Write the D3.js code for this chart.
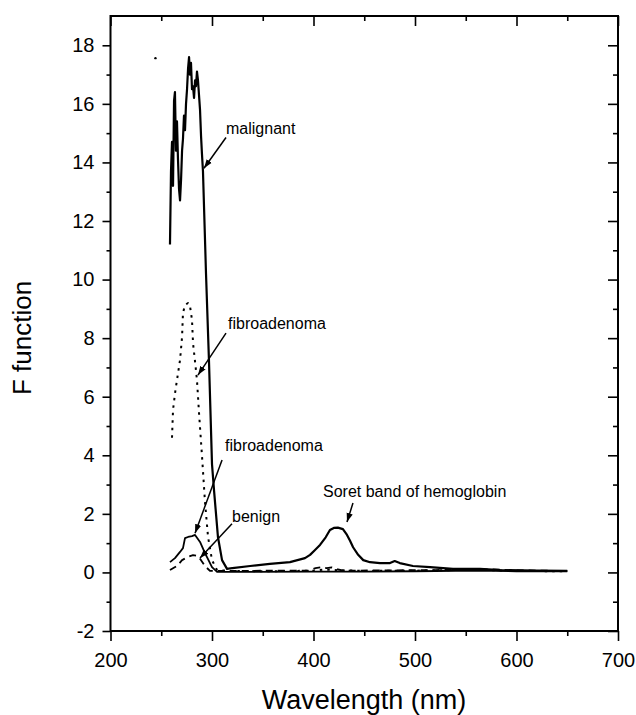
<!DOCTYPE html>
<html>
<head>
<meta charset="utf-8">
<script src="https://cdn.jsdelivr.net/npm/d3@7"></script>
<style>
body { margin: 0; background: #fff; }
text { font-family: "Liberation Sans", Arial, sans-serif; fill: #000; }
</style>
</head>
<body>
<svg width="636" height="715"></svg>
<script>
// tick values
var xTicks = [200, 300, 400, 500, 600, 700]
var xMinor = [250, 350, 450, 550, 650]
var yTicks = [-2, 0, 2, 4, 6, 8, 10, 12, 14, 16, 18]
var yMinor = [-1, 1, 3, 5, 7, 9, 11, 13, 15, 17]

// [wavelength nm, F]
var malignant = [
  [258.6, 11.2], [259.6, 13.7], [260.6, 14.7], [261.6, 13.2], [262.6, 16.1], [263.5, 16.4],
  [264.5, 14.4], [265.5, 15.4], [266.5, 14.1], [267.5, 13.1], [268.5, 12.7], [269.5, 13.4],
  [270.5, 14.4], [271.4, 14.8], [272.4, 15.6], [273.4, 15.1], [274.4, 16.0], [275.4, 16.5],
  [276.4, 17.2], [277.4, 17.6], [278.3, 17.0], [279.3, 17.4], [280.3, 16.5], [281.3, 16.6],
  [282.3, 16.2], [283.3, 16.8], [284.2, 16.6], [285.2, 17.1], [286.2, 16.8], [287.2, 16.3],
  [288.2, 15.8], [289.2, 14.9], [290.1, 14.3], [291.1, 13.7], [294.1, 10.2], [297, 7.25],
  [300, 3.7], [302, 2.8], [305.9, 1.2], [309.9, 0.42], [314.8, 0.12], [320, 0.15],
  [337.6, 0.22], [357, 0.29], [376.8, 0.35], [391.6, 0.49], [396.6, 0.6], [401, 0.75],
  [406.4, 0.94], [412, 1.2], [416.2, 1.45], [420, 1.52], [424, 1.53], [429, 1.48],
  [433, 1.28], [436, 1.08], [439, 0.86], [444, 0.6], [449, 0.42], [455.7, 0.35],
  [465.5, 0.32], [475.4, 0.32], [480, 0.39], [485, 0.32], [498, 0.22], [514.8, 0.18],
  [537.4, 0.12], [564, 0.12], [584, 0.08], [620, 0.06], [650, 0.05]
]
var fibroDotted = [
  [260.6, 4.6], [261.6, 5.55], [263.5, 6.1], [265.5, 6.57], [268.5, 7.25], [270.5, 8.04],
  [271.4, 8.86], [273.4, 9.13], [276.4, 9.2], [278.3, 9.1], [280.3, 8.62], [281.3, 7.83],
  [283.3, 7.2], [285.2, 6.57], [287.2, 5.45], [290.1, 4.0], [293.1, 2.4], [296.1, 1.21],
  [300, 0.42], [305, 0.08], [320, 0.05], [360, 0.04], [400, 0.06], [410, 0.1], [420, 0.08],
  [450, 0.05], [500, 0.06], [560, 0.09], [600, 0.05], [650, 0.04]
]
var fibroSolid = [
  [258.6, 0.35], [263.5, 0.49], [268.5, 0.7], [271.4, 0.83], [273.4, 1.17], [276.4, 1.21],
  [280.3, 1.24], [283.3, 1.28], [288.2, 1.04], [293.1, 0.66], [300, 0.18], [305, 0.02],
  [330, 0.02], [400, 0.03], [450, 0.03], [500, 0.04], [560, 0.06], [600, 0.04], [650, 0.04]
]
var benign = [
  [258.6, 0.08], [265.5, 0.22], [270.5, 0.42], [276.4, 0.53], [281.3, 0.59], [286.2, 0.56],
  [289.2, 0.42], [293.1, 0.22], [298, 0.05], [320, 0.05], [360, 0.06], [395, 0.06],
  [402, 0.15], [408, 0.18], [413, 0.15], [418, 0.17], [424, 0.1], [430, 0.06], [470, 0.07],
  [520, 0.08], [560, 0.12], [600, 0.07], [650, 0.05]
]
var stray = [[244.3, 17.56]]

// label text, label anchor, arrow start, arrow tip (data units)
var notes = [
  { text: 'malignant', at: [313.8, 14.97], from: [313.8, 14.85], to: [292.1, 13.8] },
  { text: 'fibroadenoma', at: [315.8, 8.31], from: [313.8, 8.17], to: [286.2, 6.74] },
  { text: 'fibroadenoma', at: [312.8, 4.14], from: [309.9, 3.84], to: [283.3, 1.34] },
  { text: 'benign', at: [319.7, 1.72], from: [319.7, 1.66], to: [288.2, 0.49] },
  { text: 'Soret band of hemoglobin', at: [409.4, 2.57], from: [438.9, 2.37], to: [433, 1.72] }
]

var svg = d3.select('svg')
var x = d3.scaleLinear().domain([200, 700]).range([110.5, 618])
var y = d3.scaleLinear().domain([-2, 19]).range([631, 16])

var defs = svg.append('defs')
defs.append('marker')
    .attr('id', 'head')
    .attr('viewBox', '0 0 10 10')
    .attr('refX', 10).attr('refY', 5)
    .attr('markerWidth', 9).attr('markerHeight', 9)
    .attr('markerUnits', 'userSpaceOnUse')
    .attr('orient', 'auto')
  .append('path')
    .attr('d', 'M0,1.5 L10,5 L0,8.5 Z')
    .attr('fill', '#000')

function plain (d) { return String(d) }

function axisStyle (g) {
  g.select('.domain').remove()
  g.selectAll('line').attr('stroke', '#000').attr('stroke-width', 1.6)
  g.selectAll('text').attr('font-size', 20).attr('fill', '#000')
}

// bottom / left axes with outward ticks
svg.append('g').attr('transform', 'translate(0,631)')
    .call(d3.axisBottom(x).tickValues(xTicks).tickSize(10).tickPadding(12).tickFormat(plain))
    .call(axisStyle)
svg.append('g').attr('transform', 'translate(0,631)')
    .call(d3.axisBottom(x).tickValues(xMinor).tickSize(5).tickFormat(''))
    .call(axisStyle)
svg.append('g').attr('transform', 'translate(110.5,0)')
    .call(d3.axisLeft(y).tickValues(yTicks).tickSize(8).tickPadding(8).tickFormat(plain))
    .call(axisStyle)
svg.append('g').attr('transform', 'translate(110.5,0)')
    .call(d3.axisLeft(y).tickValues(yMinor).tickSize(4).tickFormat(''))
    .call(axisStyle)

// top / right mirrored ticks pointing inward
svg.append('g').attr('transform', 'translate(0,16)')
    .call(d3.axisTop(x).tickValues(xTicks).tickSize(-10).tickFormat(''))
    .call(axisStyle)
svg.append('g').attr('transform', 'translate(0,16)')
    .call(d3.axisTop(x).tickValues(xMinor).tickSize(-5).tickFormat(''))
    .call(axisStyle)
svg.append('g').attr('transform', 'translate(618,0)')
    .call(d3.axisRight(y).tickValues(yTicks).tickSize(-10).tickFormat(''))
    .call(axisStyle)
svg.append('g').attr('transform', 'translate(618,0)')
    .call(d3.axisRight(y).tickValues(yMinor).tickSize(-5).tickFormat(''))
    .call(axisStyle)

svg.append('rect')
    .attr('x', x(200)).attr('y', y(19))
    .attr('width', x(700) - x(200)).attr('height', y(-2) - y(19))
    .attr('fill', 'none').attr('stroke', '#000').attr('stroke-width', 2)

var line = d3.line().x(function (d) { return x(d[0]) }).y(function (d) { return y(d[1]) })

var series = [
  { data: fibroSolid, dash: null, w: 1.8 },
  { data: benign, dash: '7,5', w: 1.8 },
  { data: fibroDotted, dash: '2.5,5', w: 2 },
  { data: malignant, dash: null, w: 2.2 }
]
svg.selectAll('path.curve')
    .data(series)
    .enter()
    .append('path')
    .attr('class', 'curve')
    .attr('d', function (d) { return line(d.data) })
    .attr('fill', 'none')
    .attr('stroke', '#000')
    .attr('stroke-width', function (d) { return d.w })
    .attr('stroke-dasharray', function (d) { return d.dash })
    .attr('stroke-linejoin', 'round')

svg.selectAll('circle.stray')
    .data(stray)
    .enter()
    .append('circle')
    .attr('cx', function (d) { return x(d[0]) })
    .attr('cy', function (d) { return y(d[1]) })
    .attr('r', 1.2)
    .attr('fill', '#000')

// annotations
var ann = svg.selectAll('g.note').data(notes).enter().append('g').attr('class', 'note')
ann.append('line')
    .attr('x1', function (d) { return x(d.from[0]) })
    .attr('y1', function (d) { return y(d.from[1]) })
    .attr('x2', function (d) { return x(d.to[0]) })
    .attr('y2', function (d) { return y(d.to[1]) })
    .attr('stroke', '#000')
    .attr('stroke-width', 1.5)
    .attr('marker-end', 'url(#head)')
ann.append('text')
    .attr('x', function (d) { return x(d.at[0]) })
    .attr('y', function (d) { return y(d.at[1]) })
    .attr('font-size', 16)
    .text(function (d) { return d.text })

svg.append('text')
    .attr('x', 364).attr('y', 709)
    .attr('text-anchor', 'middle')
    .attr('font-size', 27)
    .text('Wavelength (nm)')
svg.append('text')
    .attr('transform', 'translate(31,338) rotate(-90)')
    .attr('text-anchor', 'middle')
    .attr('font-size', 26)
    .text('F function')
</script>
</body>
</html>
